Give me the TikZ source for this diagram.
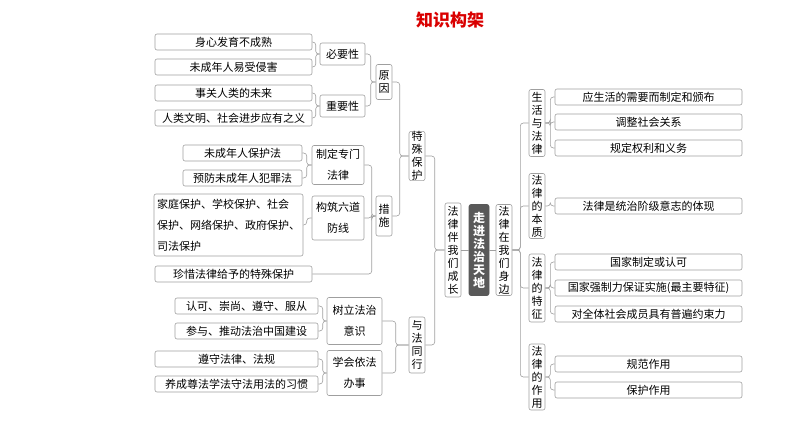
\documentclass[tikz,border=0pt]{standalone}
\usepackage{fontspec}
\setmainfont{Noto Sans CJK SC}
\usetikzlibrary{positioning, calc}

% child on the left, parent on the right
\newcommand\lnk[3]{\draw[link] (#1.east) -| ([xshift=-#3pt]#2.west) -- (#2.west);}
% parent on the left, child on the right
\newcommand\rlnk[3]{\draw[link] (#1.east) -- ++(#3pt,0) |- (#2.west);}

\begin{document}
\begin{tikzpicture}[
  x=1pt, y=-1pt,
  box/.style={draw=gray!75, rounded corners=2pt, line width=0.6pt, inner sep=0pt,
    font=\fontsize{11}{13}\selectfont, align=center},
  leaf/.style={box, minimum height=16pt},
  vbox/.style={box, text width=12pt, minimum width=16pt},
  pair/.style={box, font=\fontsize{11}{21}\selectfont},
  link/.style={draw=gray!75, line width=0.6pt, rounded corners=3pt}
]
  \useasboundingbox (0,0) rectangle (794,447);

  % Title
  \node[text=red!85!black, font=\fontsize{17}{20}\selectfont\bfseries] (title) at (450,20) {知识构架};

  % Special protection: reasons
  \node[leaf, minimum width=157pt] (a1) at (233.5,42) {身心发育不成熟};
  \node[leaf, minimum width=157pt] (a2) at (233.5,67) {未成年人易受侵害};
  \node[leaf, minimum width=157pt] (a3) at (233.5,93) {事关人类的未来};
  \node[leaf, minimum width=157pt] (a4) at (233.5,118) {人类文明、社会进步应有之义};
  \node[leaf, minimum width=45pt, minimum height=22pt] (bi) at (342.5,54) {必要性};
  \node[leaf, minimum width=45pt, minimum height=22pt] (zy) at (342.5,106) {重要性};
  \node[vbox, minimum height=35pt] (yy) at (384,82) {原\\因};

  % Special protection: measures
  \node[leaf, minimum width=119pt] (f1) at (242.5,153) {未成年人保护法};
  \node[leaf, minimum width=119pt] (f2) at (242.5,178) {预防未成年人犯罪法};
  \node[pair, minimum width=52pt, minimum height=39pt] (zd) at (338,165) {制定专门\\法律};
  \node[pair, align=left, minimum width=147pt, minimum height=62pt, inner xsep=3pt] (jt) at (228.5,225)
    {家庭保护、学校保护、社会\\保护、网络保护、政府保护、\\司法保护};
  \node[pair, minimum width=52pt, minimum height=44pt] (gz) at (338,218) {构筑六道\\防线};
  \node[leaf, minimum width=157pt] (zx) at (233.5,274) {珍惜法律给予的特殊保护};
  \node[vbox, minimum height=40pt] (cs) at (384,216) {措\\施};
  \node[vbox, minimum height=47pt] (ts) at (417,156) {特\\殊\\保\\护};

  % Walking with the law
  \node[leaf, minimum width=143pt] (s1) at (246.5,306) {认可、崇尚、遵守、服从};
  \node[leaf, minimum width=143pt] (s2) at (246.5,331) {参与、推动法治中国建设};
  \node[pair, minimum width=55pt, minimum height=47pt] (sl) at (354.5,321) {树立法治\\意识};
  \node[leaf, minimum width=163pt] (z1) at (236.5,359) {遵守法律、法规};
  \node[leaf, minimum width=163pt] (z2) at (236.5,384) {养成尊法学法守法用法的习惯};
  \node[pair, minimum width=55pt, minimum height=45pt] (xh) at (354.5,373) {学会依法\\办事};
  \node[vbox, minimum height=56pt] (yf) at (417,345) {与\\法\\同\\行};

  % Centre
  \node[vbox, minimum height=94pt] (fb) at (453,250) {法\\律\\伴\\我\\们\\成\\长};
  \node[vbox, minimum height=91pt, fill=gray!70!black, draw=gray!70!black, text=white,
    font=\fontsize{12}{13}\selectfont\bfseries, minimum width=20pt] (zj) at (479,250) {走\\进\\法\\治\\天\\地};
  \node[vbox, minimum height=91pt] (zb) at (504,250) {法\\律\\在\\我\\们\\身\\边};

  % Law around us
  \node[vbox, minimum height=67pt] (r1) at (537,123) {生\\活\\与\\法\\律};
  \node[vbox, minimum height=65pt] (r2) at (537,206) {法\\律\\的\\本\\质};
  \node[vbox, minimum height=68pt] (r3) at (537,288) {法\\律\\的\\特\\征};
  \node[vbox, minimum height=66pt] (r4) at (537,377) {法\\律\\的\\作\\用};
  \node[leaf, minimum width=187pt] (l1) at (648.5,97) {应生活的需要而制定和颁布};
  \node[leaf, minimum width=187pt] (l2) at (648.5,122) {调整社会关系};
  \node[leaf, minimum width=187pt] (l3) at (648.5,148) {规定权利和义务};
  \node[leaf, minimum width=187pt] (l4) at (648.5,206) {法律是统治阶级意志的体现};
  \node[leaf, minimum width=187pt] (l5) at (648.5,262) {国家制定或认可};
  \node[leaf, minimum width=187pt] (l6) at (648.5,288) {国家强制力保证实施(最主要特征)};
  \node[leaf, minimum width=187pt] (l7) at (648.5,314) {对全体社会成员具有普遍约束力};
  \node[leaf, minimum width=187pt] (l8) at (648.5,364) {规范作用};
  \node[leaf, minimum width=187pt] (l9) at (648.5,390) {保护作用};

  % Connectors, left side
  \lnk{a1}{bi}{4} \lnk{a2}{bi}{4}
  \lnk{a3}{zy}{4} \lnk{a4}{zy}{4}
  \lnk{bi}{yy}{5} \lnk{zy}{yy}{5}
  \lnk{f1}{zd}{5} \lnk{f2}{zd}{5}
  \lnk{jt}{gz}{5}
  \lnk{zd}{cs}{4} \lnk{gz}{cs}{4} \lnk{zx}{cs}{4}
  \lnk{yy}{ts}{9} \lnk{cs}{ts}{9}
  \lnk{s1}{sl}{4} \lnk{s2}{sl}{4}
  \lnk{z1}{xh}{4} \lnk{z2}{xh}{4}
  \lnk{sl}{yf}{13} \lnk{xh}{yf}{13}
  \lnk{ts}{fb}{10} \lnk{yf}{fb}{10}
  \draw[link] (fb) -- (zj) -- (zb);

  % Connectors, right side
  \foreach \r in {r1,r2,r3,r4} {\rlnk{zb}{\r}{8}}
  \foreach \l in {l1,l2,l3} {\rlnk{r1}{\l}{5}}
  \rlnk{r2}{l4}{5}
  \foreach \l in {l5,l6,l7} {\rlnk{r3}{\l}{5}}
  \foreach \l in {l8,l9} {\rlnk{r4}{\l}{5}}
\end{tikzpicture}
\end{document}
